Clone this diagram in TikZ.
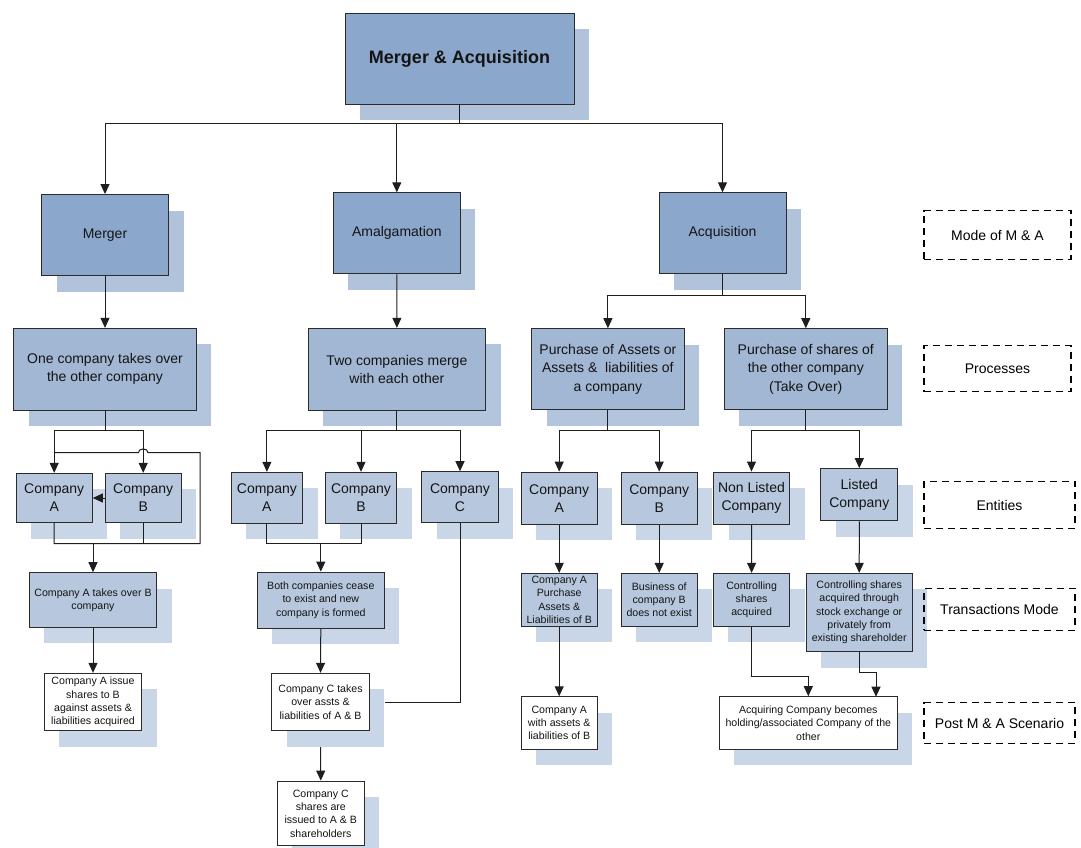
\documentclass[tikz,border=0pt]{standalone}
\usepackage{fontspec}
\setmainfont{Liberation Sans}
\usetikzlibrary{arrows.meta,shadows}

\definecolor{topfill}{HTML}{8BA8CC}
\definecolor{topshade}{HTML}{B1C3DB}
\definecolor{procfill}{HTML}{A2B7D3}
\definecolor{procshade}{HTML}{B3C5DD}
\definecolor{entfill}{HTML}{B7C8DE}
\definecolor{entshade}{HTML}{C9D6E7}
\definecolor{edge}{HTML}{2B2B2B}
\definecolor{wire}{HTML}{1E1E1E}

\tikzset{
  boxbase/.style={draw=edge, line width=0.95pt, align=center, inner sep=1pt,
    text=black!92},
  shade/.style={drop shadow={shadow xshift=15pt, shadow yshift=-16pt,
    opacity=1, fill=#1}},
  topbox/.style={boxbase, fill=topfill, shade=topshade, font=\fontsize{14}{18}\selectfont},
  titlebox/.style={boxbase, fill=topfill, shade=topshade, font=\fontsize{18}{22}\selectfont\bfseries},
  procbox/.style={boxbase, fill=procfill, shade=procshade, font=\fontsize{14}{18.3}\selectfont},
  entbox/.style={boxbase, fill=entfill, shade=entshade, font=\fontsize{14}{18}\selectfont},
  smallbox/.style={boxbase, fill=entfill, shade=entshade, font=\fontsize{10.6}{13.3}\selectfont},
  whitebox/.style={boxbase, fill=white, shade=entshade, font=\fontsize{10.6}{13.3}\selectfont},
  legendbox/.style={draw=black, line width=1.1pt, dash pattern=on 7pt off 5pt,
    align=center, inner sep=0pt, font=\fontsize{14}{18}\selectfont},
  wiring/.style={draw=wire, line width=1pt},
  arr/.style={wiring, -{Triangle[length=10pt,width=9pt]}},
}

\begin{document}
\begin{tikzpicture}[x=1pt,y=-1pt]
\useasboundingbox (0,0) rectangle (1081,848);
\clip (0,0) rectangle (1081,848);

% ---- level 0 and mode of M & A
\node[titlebox, minimum width=229pt, minimum height=91pt] (title) at (459.5,58.5) {Merger \& Acquisition};
\node[topbox, minimum width=127pt, minimum height=81pt] (merger) at (105,235) {Merger};
\node[topbox, minimum width=127pt, minimum height=81pt] (amalg) at (396.8,233.3) {Amalgamation};
\node[topbox, minimum width=127pt, minimum height=81pt] (acq) at (722.5,233.3) {Acquisition};

% ---- processes
\node[procbox, minimum width=182.6pt, minimum height=81.7pt] (p1) at (105,369.2) {One company takes over\\the other company};
\node[procbox, minimum width=177.7pt, minimum height=81.7pt] (p2) at (396.9,369.2) {Two companies merge\\with each other};
\node[procbox, minimum width=152.3pt, minimum height=81pt] (p3) at (607.9,369.2) {Purchase of Assets or\\Assets \&\ \ liabilities of\\a company};
\node[procbox, minimum width=163pt, minimum height=81pt] (p4) at (805.8,369.2) {Purchase of shares of\\the other company\\(Take Over)};

% ---- entities
\node[entbox, minimum width=76.3pt, minimum height=49.4pt] (e1a) at (54.2,498) {Company\\A};
\node[entbox, minimum width=76.3pt, minimum height=49.4pt] (e1b) at (143.2,498) {Company\\B};
\node[entbox, minimum width=71.7pt, minimum height=51pt] (e2a) at (266.9,497.8) {Company\\A};
\node[entbox, minimum width=71.4pt, minimum height=51pt] (e2b) at (361,497.8) {Company\\B};
\node[entbox, minimum width=76.6pt, minimum height=51pt] (e2c) at (460,497.2) {Company\\C};
\node[entbox, minimum width=76.3pt, minimum height=52.3pt] (e3a) at (559.2,498.2) {Company\\A};
\node[entbox, minimum width=76.3pt, minimum height=52.3pt] (e3b) at (659.2,498.2) {Company\\B};
\node[entbox, minimum width=76pt, minimum height=52.3pt] (e4n) at (751.5,498.2) {Non Listed\\Company};
\node[entbox, minimum width=76.7pt, minimum height=52.3pt] (e4l) at (859.3,494.8) {Listed\\Company};

% ---- transactions
\node[smallbox, minimum width=127.4pt, minimum height=54.6pt] (t1) at (93,600) {Company A takes over B\\company};
\node[smallbox, minimum width=127pt, minimum height=56.3pt] (t2) at (320.8,600.2) {Both companies cease\\to exist and new\\company is formed};
\node[smallbox, minimum width=76.3pt, minimum height=52.7pt] (t3a) at (559.2,599.7) {Company A\\Purchase\\Assets \&\\Liabilities of B};
\node[smallbox, minimum width=76.3pt, minimum height=52.7pt] (t3b) at (659.2,599.7) {Business of\\company B\\does not exist};
\node[smallbox, minimum width=76.7pt, minimum height=52.7pt] (t4n) at (751.6,599.7) {Controlling\\shares\\acquired};
\node[smallbox, minimum width=106.3pt, minimum height=78.4pt] (t4l) at (859.2,612.5) {Controlling shares\\acquired through\\stock exchange or\\privately from\\existing shareholder};

% ---- post M & A scenario
\node[whitebox, minimum width=97.4pt, minimum height=57.4pt] (t1b) at (93,702) {Company A issue\\shares to B\\against assets \&\\liabilities acquired};
\node[whitebox, minimum width=97.6pt, minimum height=57.4pt] (t2b) at (320.5,702) {Company C takes\\over assts \&\\liabilities of A \& B};
\node[whitebox, minimum width=87pt, minimum height=64.7pt] (t2c) at (320.8,813.4) {Company C\\shares are\\issued to A \& B\\shareholders};
\node[whitebox, minimum width=76.3pt, minimum height=52.3pt] (t3ab) at (559.2,722.9) {Company A\\with assets \&\\liabilities of B};
\node[whitebox, minimum width=178pt, minimum height=52.6pt] (post) at (808.3,723) {Acquiring Company becomes\\holding/associated Company of the\\other};

% ---- legend
\node[legendbox, minimum width=147pt, minimum height=48.6pt] (lmode) at (997.5,235) {Mode of M \& A};
\node[legendbox, minimum width=147pt, minimum height=46pt] (lproc) at (997.5,368.7) {Processes};
\node[legendbox, minimum width=151pt, minimum height=46.6pt] (lent) at (999.5,505) {Entities};
\node[legendbox, minimum width=151pt, minimum height=41.7pt] (ltran) at (999.5,609.2) {Transactions Mode};
\node[legendbox, minimum width=151pt, minimum height=40.6pt] (lpost) at (999.5,723) {Post M \& A Scenario};

% ---- bus levels
\coordinate (bus0) at (0,124);
\coordinate (bus3) at (0,295.7);
\coordinate (bus1) at (0,430);
\coordinate (bus1b) at (0,543.5);

% title to the three modes
\draw[wiring] (title.south) -- (title.south |- bus0);
\draw[arr] (title.south |- bus0) -| (merger.north);
\draw[arr] (title.south |- bus0) -| (amalg.north);
\draw[arr] (title.south |- bus0) -| (acq.north);

% modes to processes
\draw[arr] (merger.south) -- (p1.north);
\draw[arr] (amalg.south) -- (p2.north);
\draw[wiring] (acq.south) -- (acq.south |- bus3);
\draw[arr] (acq.south |- bus3) -| (p3.north);
\draw[arr] (acq.south |- bus3) -| (p4.north);

% merger branch
\draw[wiring] (p1.south) -- (p1.south |- bus1);
\draw[arr] (p1.south |- bus1) -| (e1a.north);
\draw[arr] (p1.south |- bus1) -| (e1b.north);
\coordinate (loopl) at (54.2,452.7);
\coordinate (loopr) at (200,452.7);
\draw[wiring] (loopl) -- (138.4,452.7) .. controls (138.4,447.7) and (148,447.7) .. (148,452.7)
  -- (loopr) -- (loopr |- bus1b) -- (e1a.south |- bus1b) -- (e1a.south);
\draw[wiring] (e1b.south) -- (e1b.south |- bus1b);
\draw[arr] (e1b.west) -- (e1a.east);
\draw[arr] (t1.north |- bus1b) -- (t1.north);
\draw[arr] (t1.south) -- (t1b.north);

% amalgamation branch
\draw[wiring] (p2.south) -- (p2.south |- bus1);
\draw[arr] (p2.south |- bus1) -| (e2a.north);
\draw[arr] (p2.south |- bus1) -| (e2b.north);
\draw[arr] (p2.south |- bus1) -| (e2c.north);
\draw[wiring] (e2a.south) |- (e2b.south |- bus1b) -- (e2b.south);
\draw[arr] (t2.north |- bus1b) -- (t2.north);
\draw[arr] (t2.south) -- (t2b.north);
\coordinate (t2bshade) at ([xshift=15pt]t2b.east);
\draw[wiring] (e2c.south) |- (t2bshade);
\coordinate (t2bfoot) at ([yshift=-16pt]t2b.south);
\draw[arr] (t2bfoot) -- (t2c.north);

% acquisition: assets branch
\draw[wiring] (p3.south) -- (p3.south |- bus1);
\draw[arr] (p3.south |- bus1) -| (e3a.north);
\draw[arr] (p3.south |- bus1) -| (e3b.north);
\draw[arr] (e3a.south) -- (t3a.north);
\draw[arr] (e3b.south) -- (t3b.north);
\draw[arr] (t3a.south) -- (t3ab.north);

% acquisition: shares branch
\draw[wiring] (p4.south) -- (p4.south |- bus1);
\draw[arr] (p4.south |- bus1) -| (e4n.north);
\draw[arr] (p4.south |- bus1) -| (e4l.north);
\draw[arr] (e4n.south) -- (t4n.north);
\draw[arr] (e4l.south) -- (t4l.north);
\draw[arr] (t4n.south) |- (808.3,676.7) -- (post.north);
\coordinate (postr) at (876,696.7);
\draw[arr] (t4l.south) |- (postr |- 0,672.3) -- (postr);
\end{tikzpicture}
\end{document}
